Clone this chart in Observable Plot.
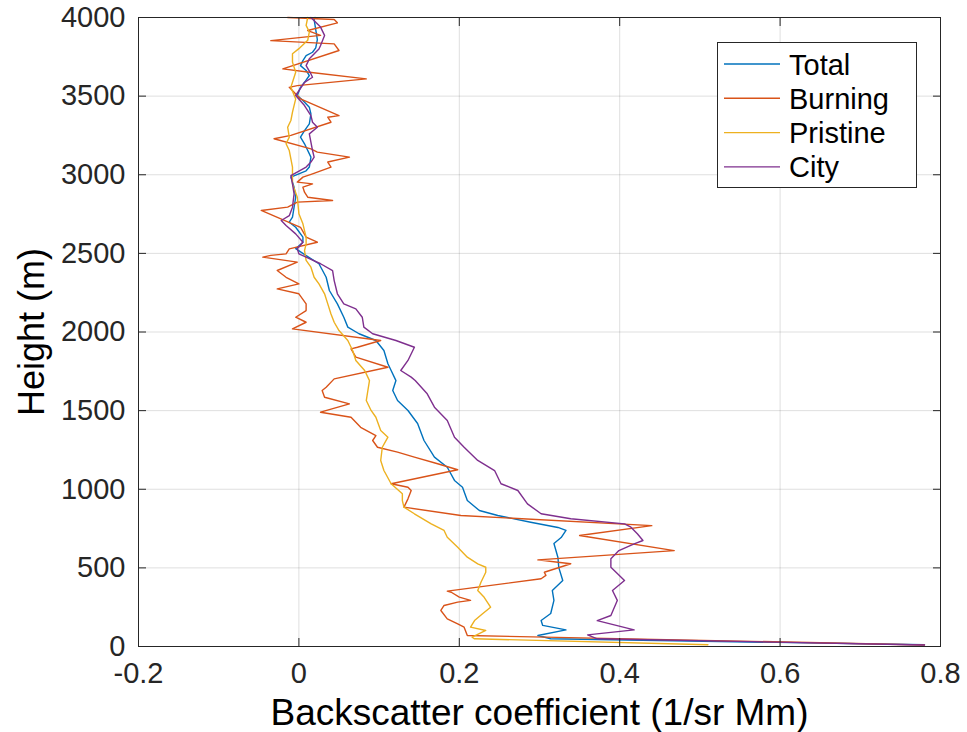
<!DOCTYPE html>
<html><head><meta charset="utf-8">
<script src="https://cdn.jsdelivr.net/npm/d3@7"></script>
<script src="https://cdn.jsdelivr.net/npm/@observablehq/plot@0.6"></script>
<style>body{margin:0;background:#fff;} #chart{width:967px;height:732px;}</style>
</head><body><div id="chart"></div>
<script>
// [height (m), backscatter (1/sr Mm)]
const total = [[11,0.78],[49,0.314],[70,0.298],[106,0.333],[134,0.304],[165,0.302],[210,0.314],[293,0.318],[356,0.316],[420,0.329],[503,0.324],[566,0.323],[655,0.318],[693,0.327],[738,0.333],[757,0.323],[790,0.289],[833,0.248],[865,0.225],[928,0.210],[1013,0.204],[1056,0.194],[1140,0.185],[1204,0.169],[1310,0.156],[1418,0.148],[1501,0.136],[1564,0.123],[1628,0.117],[1691,0.121],[1755,0.115],[1798,0.111],[1882,0.106],[1946,0.096],[1989,0.075],[2031,0.061],[2094,0.056],[2179,0.048],[2264,0.038],[2348,0.034],[2434,0.025],[2476,0.012],[2530,-0.004],[2571,0.005],[2603,0.005],[2666,-0.004],[2698,-0.012],[2730,-0.008],[2794,-0.006],[2857,-0.004],[2921,-0.006],[2985,-0.010],[3025,0.009],[3049,0.013],[3112,0.015],[3197,0.007],[3239,0.002],[3281,0.007],[3323,0.013],[3387,0.015],[3429,0.013],[3472,0.005],[3504,-0.002],[3556,0.002],[3588,0.007],[3631,0.013],[3663,0.009],[3694,0.002],[3726,0.005],[3758,0.009],[3779,0.017],[3807,0.021],[3860,0.023],[3923,0.021],[3987,0.019],[4000,0.020]];
const burning = [[10,0.78],[70,0.210],[123,0.206],[144,0.198],[176,0.185],[229,0.177],[261,0.181],[282,0.198],[293,0.214],[314,0.200],[345,0.190],[352,0.185],[431,0.302],[452,0.308],[472,0.306],[526,0.339],[536,0.323],[551,0.298],[610,0.468],[706,0.350],[769,0.440],[833,0.202],[886,0.131],[939,0.136],[992,0.140],[1013,0.136],[1035,0.115],[1124,0.198],[1162,0.173],[1204,0.144],[1236,0.123],[1267,0.098],[1310,0.092],[1341,0.096],[1394,0.077],[1458,0.065],[1490,0.027],[1543,0.063],[1585,0.032],[1628,0.029],[1649,0.034],[1702,0.044],[1776,0.111],[1840,0.071],[1893,0.065],[1903,0.073],[1946,0.102],[2020,-0.008],[2062,0.009],[2094,-0.004],[2136,0.009],[2179,0.009],[2243,0.0],[2274,-0.027],[2306,0.0],[2348,-0.016],[2391,-0.027],[2444,-0.002],[2476,-0.045],[2487,-0.035],[2497,-0.016],[2529,-0.012],[2571,0.023],[2603,0.009],[2666,0.002],[2773,-0.047],[2794,-0.014],[2826,-0.002],[2836,0.042],[2857,0.011],[2889,0.007],[2921,0.005],[2942,0.017],[2953,-0.002],[2985,0.005],[3006,0.017],[3049,0.040],[3081,0.036],[3112,0.063],[3144,0.023],[3165,0.015],[3229,-0.031],[3250,-0.010],[3334,0.040],[3366,0.036],[3376,0.050],[3482,0.002],[3556,-0.012],[3567,-0.002],[3610,0.084],[3652,0.013],[3673,-0.020],[3790,0.050],[3832,0.044],[3853,-0.035],[3886,0.027],[3917,0.011],[3966,0.048],[3987,0.044],[4000,-0.014]];
const pristine = [[11,0.51],[49,0.219],[59,0.216],[102,0.233],[123,0.214],[165,0.219],[208,0.229],[250,0.239],[313,0.231],[356,0.223],[409,0.227],[472,0.233],[504,0.233],[526,0.223],[568,0.210],[631,0.198],[695,0.185],[738,0.181],[780,0.165],[844,0.144],[886,0.131],[928,0.129],[971,0.129],[1035,0.115],[1119,0.106],[1183,0.102],[1267,0.104],[1331,0.111],[1373,0.102],[1458,0.096],[1501,0.090],[1564,0.084],[1628,0.086],[1691,0.088],[1755,0.082],[1819,0.071],[1882,0.067],[1946,0.061],[2009,0.050],[2062,0.044],[2115,0.040],[2179,0.036],[2243,0.032],[2306,0.025],[2348,0.019],[2412,0.015],[2455,0.009],[2518,0.007],[2560,0.009],[2603,0.009],[2645,0.007],[2688,0.005],[2752,0.0],[2857,-0.002],[2942,-0.008],[3049,-0.008],[3154,-0.012],[3197,-0.016],[3239,-0.012],[3302,-0.014],[3345,-0.010],[3398,-0.008],[3482,-0.004],[3556,-0.010],[3652,-0.004],[3716,-0.008],[3769,-0.008],[3802,0.0],[3855,0.011],[3908,0.013],[3950,0.009],[4000,0.011]];
const city = [[10,0.78],[49,0.372],[74,0.360],[106,0.418],[165,0.372],[197,0.389],[293,0.397],[356,0.391],[420,0.406],[504,0.389],[558,0.389],[610,0.399],[653,0.418],[674,0.429],[717,0.422],[759,0.414],[780,0.406],[812,0.339],[844,0.302],[907,0.285],[992,0.273],[1035,0.252],[1119,0.244],[1183,0.223],[1267,0.206],[1331,0.194],[1437,0.185],[1522,0.169],[1607,0.160],[1691,0.145],[1713,0.140],[1755,0.127],[1819,0.136],[1903,0.144],[1946,0.121],[1989,0.092],[2031,0.081],[2094,0.079],[2147,0.071],[2179,0.056],[2243,0.048],[2327,0.044],[2391,0.042],[2434,0.027],[2476,0.009],[2497,0.0],[2529,-0.002],[2571,0.005],[2624,-0.004],[2677,-0.016],[2709,-0.022],[2740,-0.012],[2794,-0.008],[2878,-0.006],[2942,-0.008],[2994,-0.010],[3049,0.009],[3081,0.015],[3112,0.019],[3154,0.017],[3260,0.013],[3302,0.023],[3334,0.017],[3376,0.015],[3440,0.007],[3504,-0.004],[3588,0.007],[3620,0.017],[3641,0.015],[3694,0.009],[3737,0.013],[3800,0.025],[3822,0.027],[3886,0.032],[3939,0.027],[4000,0.015]];

const seriesNames = ["Total", "Burning", "Pristine", "City"];
const seriesColors = ["#0072BD", "#D95319", "#EDB120", "#7E2F8E"];
const seriesData = [total, burning, pristine, city];
const xTicks = [-0.2, 0, 0.2, 0.4, 0.6, 0.8];
const yTicks = [0, 500, 1000, 1500, 2000, 2500, 3000, 3500, 4000];
const xLabel = "Backscatter coefficient (1/sr Mm)";
const yLabel = "Height (m)";

const ink = "#262626";
const tickFont = 29;
const noText = () => "";

const lineMarks = seriesData.map((d, i) =>
  Plot.line(d, {x: p => p[1], y: p => p[0], stroke: seriesColors[i], strokeWidth: 1.4, curve: "linear"}));

const chart = Plot.plot({
  width: 967, height: 732,
  marginLeft: 138, marginRight: 27, marginTop: 17, marginBottom: 86,
  style: {fontFamily: "'Liberation Sans', Arial, sans-serif", background: "#fff", color: ink},
  x: {domain: [-0.2, 0.8]},
  y: {domain: [0, 4000]},
  marks: [
    Plot.gridX(xTicks, {stroke: ink, strokeOpacity: 0.15, strokeWidth: 1}),
    Plot.gridY(yTicks, {stroke: ink, strokeOpacity: 0.15, strokeWidth: 1}),
    ...lineMarks,
    Plot.frame({stroke: ink, strokeWidth: 1}),
    Plot.axisX(xTicks, {anchor: "bottom", tickSize: 0, tickPadding: 16, fontSize: tickFont, tickFormat: d => String(d), label: null}),
    Plot.axisY(yTicks, {anchor: "left", tickSize: 0, tickPadding: 13, fontSize: tickFont, tickFormat: d => String(d), label: null}),
    Plot.axisX(xTicks, {anchor: "bottom", tickSize: 8, dy: -8, tickFormat: noText, label: null, stroke: ink}),
    Plot.axisX(xTicks, {anchor: "top", tickSize: 8, dy: 8, tickFormat: noText, label: null, stroke: ink}),
    Plot.axisY(yTicks, {anchor: "left", tickSize: 8, dx: 8, tickFormat: noText, label: null, stroke: ink}),
    Plot.axisY(yTicks, {anchor: "right", tickSize: 8, dx: -8, tickFormat: noText, label: null, stroke: ink}),
    Plot.text([xLabel], {frameAnchor: "bottom", dy: 67, fontSize: 37, fill: "#000", textAnchor: "middle", lineAnchor: "middle"}),
    Plot.text([yLabel], {frameAnchor: "left", dx: -106, rotate: -90, fontSize: 36, fill: "#000", textAnchor: "middle", lineAnchor: "middle"})
  ]
});

// Legend (MATLAB-style box, top-right)
const svg = d3.select(chart);
const lg = svg.append("g").attr("text-anchor", "start");
lg.append("rect").attr("x", 717.5).attr("y", 42.5).attr("width", 199).attr("height", 145)
  .attr("fill", "#fff").attr("stroke", ink).attr("stroke-width", 1);
seriesNames.forEach((name, i) => {
  const y = 64 + i * 34.3;
  lg.append("line").attr("x1", 724).attr("x2", 780).attr("y1", y).attr("y2", y)
    .attr("stroke", seriesColors[i]).attr("stroke-width", 1.4);
  lg.append("text").attr("x", 789).attr("y", y + 10.5).attr("font-size", 29)
    .attr("text-anchor", "start")
    .attr("font-family", "'Liberation Sans', Arial, sans-serif").attr("fill", "#000").text(name);
});

document.getElementById("chart").appendChild(chart);
</script>
</body></html>
